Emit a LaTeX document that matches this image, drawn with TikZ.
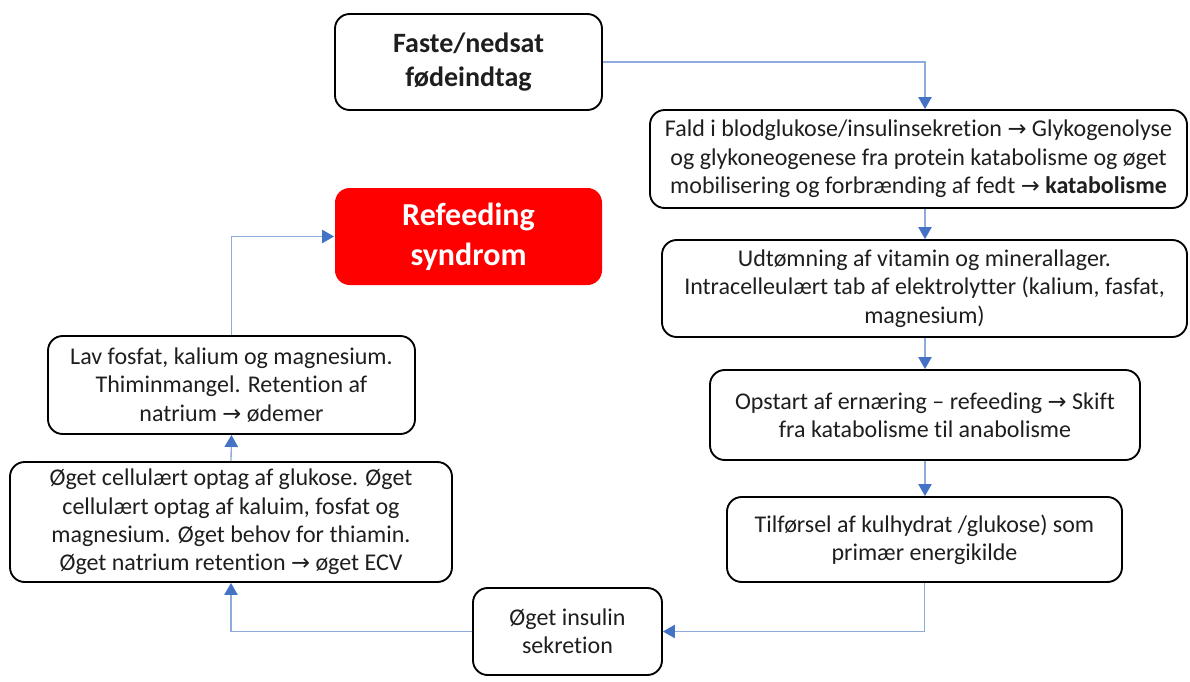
\documentclass[tikz,border=0pt]{standalone}
\usepackage{fontspec}
\setmainfont{Carlito}[Ligatures=NoCommon]
\newfontfamily\dvs{DejaVu Sans}
\usetikzlibrary{arrows.meta}
\newcommand{\arr}{{\dvs\fontsize{17}{17}\selectfont →}}
\definecolor{linec}{HTML}{8FAADC}
\definecolor{tipc}{HTML}{4472C4}
\definecolor{txtc}{HTML}{1E1E1E}
\definecolor{redbox}{HTML}{FF0000}
\tikzset{
  box/.style={draw=black, line width=1.4pt, rounded corners=11pt, align=center,
    text=txtc, inner sep=2pt, font=\fontsize{18}{21.3}\selectfont},
  conn/.style={draw=linec, line width=1pt,
    -{Triangle[width=10pt,length=9pt,color=tipc]}},
}
\begin{document}
\begin{tikzpicture}[x=0.75pt,y=-0.75pt]
\useasboundingbox (0,0) rectangle (1190,682);
\node[box, minimum width=267*0.75pt, minimum height=96*0.75pt,
  font=\fontsize{21}{25.5}\selectfont\bfseries] (n1) at (468.5,62) {Faste/nedsat\\fødeindtag};
\node[box, minimum width=537*0.75pt, minimum height=98*0.75pt] (n2) at (918.5,159)
  {Fald i blodglukose/insulinsekretion \arr{} Glykogenolyse\\og glykoneogenese fra protein katabolisme og øget\\mobilisering og forbrænding af fedt \arr{} \textbf{katabolisme}};
\node[box, minimum width=525*0.75pt, minimum height=97*0.75pt] (n3) at (924.5,288.5)
  {Udtømning af vitamin og minerallager.\\Intracelleulært tab af elektrolytter (kalium, fasfat,\\magnesium)};
\node[box, minimum width=430*0.75pt, minimum height=90*0.75pt] (n4) at (925,415)
  {Opstart af ernæring -- refeeding \arr{} Skift\\fra katabolisme til anabolisme};
\node[box, minimum width=395*0.75pt, minimum height=85*0.75pt] (n5) at (924.5,539.5)
  {Tilførsel af kulhydrat /glukose) som\\primær energikilde};
\node[box, minimum width=189*0.75pt, minimum height=87*0.75pt] (n6) at (567.5,631.5)
  {Øget insulin\\sekretion};
\node[box, minimum width=442*0.75pt, minimum height=120*0.75pt] (n7) at (231,522)
  {Øget cellulært optag af glukose. Øget\\cellulært optag af kaluim, fosfat og\\magnesium. Øget behov for thiamin.\\Øget natrium retention \arr{} øget ECV};
\node[box, minimum width=367*0.75pt, minimum height=98*0.75pt] (n8) at (231.5,385)
  {Lav fosfat, kalium og magnesium.\\Thiminmangel. Retention af\\natrium \arr{} ødemer};
\node[box, draw=none, fill=redbox, text=white, minimum width=267*0.75pt, minimum height=97*0.75pt,
  font=\fontsize{24}{30}\selectfont\bfseries] (rs) at (468.5,236.5) {Refeeding\\syndrom};
\coordinate (cx) at (925,0);
\draw[conn] (n1.east) -| (n2.north -| cx);
\draw[conn] (n2.south -| cx) -- (n3.north -| cx);
\draw[conn] (n3.south -| cx) -- (n4.north -| cx);
\draw[conn] (n4.south -| cx) -- (n5.north -| cx);
\draw[conn] (n5.south) |- (n6.east);
\draw[conn] (n6.west) -| (n7.south);
\draw[conn] (n7.north) -- (n8.south);
\draw[conn] (n8.north) |- (rs.west);
\end{tikzpicture}
\end{document}
